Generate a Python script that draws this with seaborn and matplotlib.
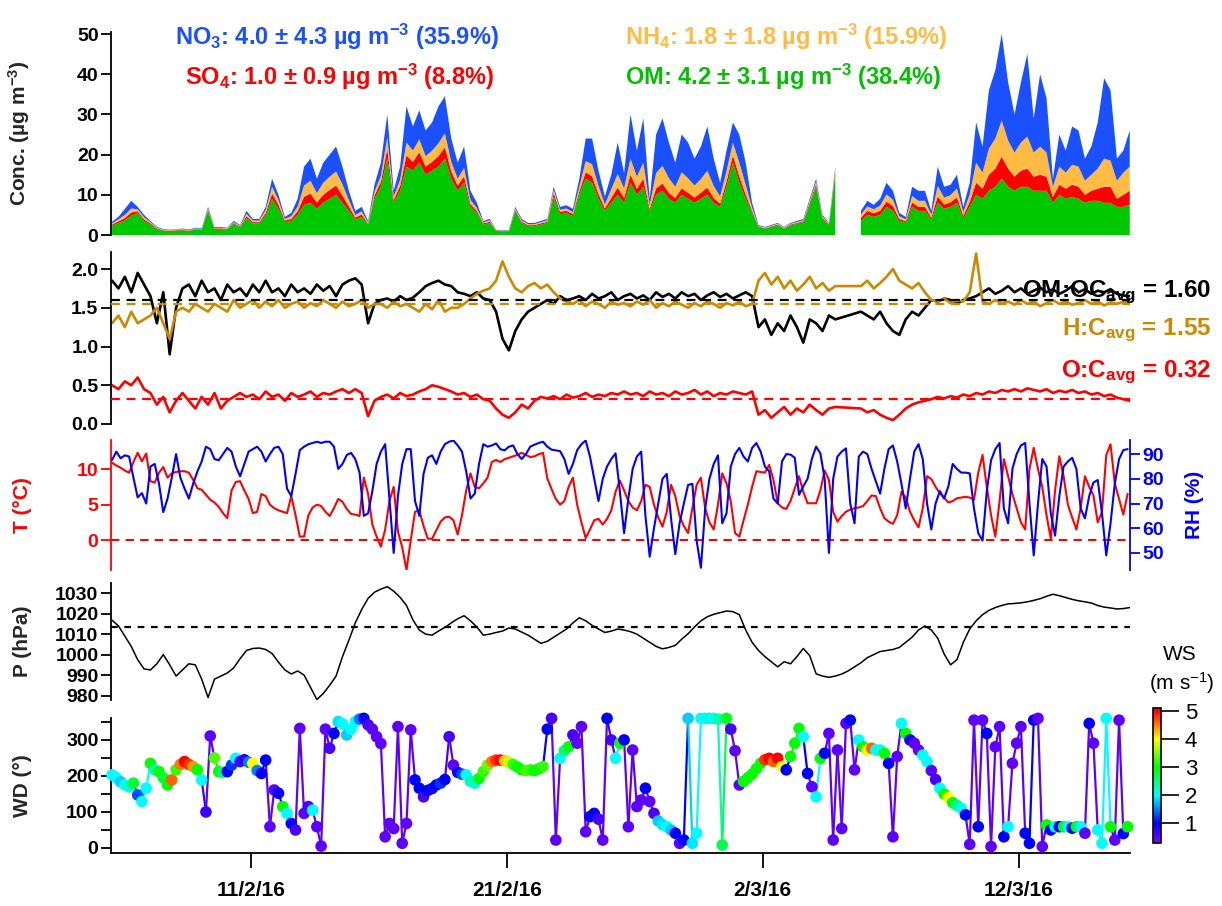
import numpy as np
import pandas as pd
import matplotlib
matplotlib.use("Agg")
import matplotlib.pyplot as plt
import matplotlib.dates as mdates
from matplotlib.collections import LineCollection
from matplotlib.colors import LinearSegmentedColormap, Normalize
from matplotlib.cm import ScalarMappable
from matplotlib.ticker import FixedLocator, FormatStrFormatter
from matplotlib.font_manager import FontProperties, fontManager
import seaborn as sns

# ---------------- time base ----------------
START = "2016-02-05 14:00"
XLIM = ("2016-02-05 13:00", "2016-03-16 08:15")
XTICK_DATES = ["2016-02-11", "2016-02-21", "2016-03-02", "2016-03-12"]
XTICK_LABELS = ["11/2/16", "21/2/16", "2/3/16", "12/3/16"]

nan = np.nan

# ---------------- PM1 composition, 6-hourly (µg m-3) ----------------
CONC_OM = [2.3, 3.0, 3.6, 4.8, 5.5, 3.5, 2.6, 1.5, 1.1, 1.0, 1.1, 1.2, 1.0, 1.4, 1.3, 6.0, 1.5, 1.5, 1.4, 2.8, 1.9, 4.2, 2.9, 2.9, 4.8,
           9, 6.5, 3.2, 3.5, 5, 7.5, 8, 6.5, 8, 9, 10, 8, 6, 3.8, 4.5, 2.6,
           9, 12, 19, 8, 11, 17, 16, 18, 15, 16, 17, 19, 14, 11, 13, 7, 5.5,
           2.6, 3.0, 1.0, 0.9, 0.9, 6.0, 3.0, 2.2, 2.2, 2.6, 3.0, 9.5, 5.2, 5.4, 4.7,
           10, 14, 13, 9, 6, 8, 10, 8, 13, 10, 12, 6, 10, 11, 9, 8, 10, 9, 8, 9, 10, 8, 7, 12, 18, 13, 9, 5.5,
           2.0, 1.6, 2.0, 2.4, 1.6, 2.4, 2.8, 3.2, 7.5, 12, 4, 2.4, 15,
           nan, nan, nan,
           3.5, 5, 4.5, 5, 7, 6, 3.5, 3, 7, 6, 6, 3.8, 8, 6.5, 7, 8, 4.2, 7,
           10, 9, 11, 12, 14, 12, 11, 12, 12, 11, 11, 11, 8, 10, 9, 9.5, 9, 8, 8.5, 8.5, 8, 8, 7, 7, 7.5]
CONC_SO4 = [0.3, 0.4, 0.6, 0.8, 0.4, 0.4, 0.3, 0.15, 0.1, 0.1, 0.1, 0.1, 0.1, 0.1, 0.1, 0.3, 0.15, 0.15, 0.1, 0.2, 0.2, 0.5, 0.3, 0.3, 0.6,
            1.3, 1.0, 0.4, 0.5, 0.9, 2.0, 2.3, 1.6, 2.0, 2.2, 2.3, 1.8, 1.1, 0.5, 0.6, 0.2,
            0.8, 1.2, 2.5, 0.7, 1.2, 2.8, 2.2, 2.6, 2.0, 2.2, 2.6, 2.8, 1.8, 1.3, 1.6, 0.7, 0.5,
            0.3, 0.3, 0.1, 0.1, 0.1, 0.3, 0.3, 0.25, 0.25, 0.3, 0.3, 0.9, 0.6, 0.6, 0.5,
            0.8, 1.6, 1.6, 1.2, 0.6, 1.2, 1.8, 1.2, 2.0, 1.5, 2.0, 0.5, 1.6, 1.8, 1.5, 1.2, 1.6, 1.5, 1.3, 1.5, 1.8, 1.2, 0.8, 1.3, 1.8, 1.6, 1.1, 0.5,
            0.15, 0.1, 0.15, 0.2, 0.1, 0.2, 0.2, 0.25, 0.5, 0.7, 0.3, 0.2, 0.7,
            nan, nan, nan,
            0.8, 1.0, 0.9, 1.0, 1.3, 1.2, 0.5, 0.4, 1.1, 1.0, 1.0, 0.5, 1.6, 1.1, 1.1, 1.4, 0.6, 1.2,
            3, 2.5, 4, 4.5, 5.5, 4.5, 3.5, 4, 4.5, 3.5, 4, 3.5, 1.5, 2.5, 2.5, 3, 3, 2, 2.5, 3, 4, 4, 2, 3, 3.5]
CONC_NH4 = [0.3, 0.5, 0.8, 1.0, 0.5, 0.5, 0.3, 0.15, 0.15, 0.1, 0.1, 0.15, 0.15, 0.15, 0.15, 0.3, 0.15, 0.15, 0.15, 0.2, 0.2, 0.6, 0.4, 0.4, 0.8,
            1.7, 1.2, 0.4, 0.7, 1.2, 2.8, 3.2, 2.3, 3.0, 3.3, 3.5, 2.8, 1.6, 0.7, 0.8, 0.3,
            1.0, 1.5, 2.8, 0.9, 1.5, 3.2, 2.8, 3.2, 2.6, 2.8, 3.2, 3.5, 2.4, 1.7, 2.1, 1.0, 0.7,
            0.3, 0.35, 0.1, 0.1, 0.1, 0.3, 0.35, 0.25, 0.25, 0.3, 0.35, 0.8, 0.5, 0.6, 0.5,
            1.2, 2.8, 3.0, 2.0, 1.0, 2.2, 3.4, 2.4, 4.0, 3.0, 4.0, 1.0, 3.8, 4.4, 3.6, 2.8, 4.0, 3.6, 3.0, 3.4, 4.2, 3.0, 1.8, 2.6, 3.2, 3.4, 2.4, 0.8,
            0.15, 0.15, 0.15, 0.2, 0.15, 0.2, 0.25, 0.25, 0.5, 0.6, 0.3, 0.2, 0.6,
            nan, nan, nan,
            0.8, 1.1, 1.0, 1.3, 1.8, 1.6, 0.7, 0.5, 1.6, 1.5, 1.5, 0.7, 2.6, 1.7, 1.8, 2.2, 0.9, 1.9,
            5, 4, 6.5, 7.5, 9, 7, 6, 7, 8, 6, 7, 6, 2.5, 4.5, 4, 5, 5, 3.5, 4, 5, 7, 6.5, 4.5, 5.5, 6]
CONC_NO3 = [0.4, 0.6, 1.5, 1.9, 0.6, 0.6, 0.3, 0.2, 0.15, 0.1, 0.1, 0.15, 0.15, 0.15, 0.15, 0.4, 0.2, 0.2, 0.15, 0.3, 0.2, 0.7, 0.4, 0.4, 0.8,
            2, 1.3, 0.5, 0.8, 1.9, 4.7, 5.5, 3.6, 5, 5.5, 6.2, 4.4, 2.3, 1, 1.1, 0.4,
            1.7, 3.3, 5.7, 1.4, 3.3, 9, 6, 7.2, 6.4, 7, 9.2, 9.2, 5.8, 4, 5.3, 2.3, 1.3,
            0.3, 0.35, 0.1, 0.1, 0.1, 0.4, 0.35, 0.3, 0.3, 0.3, 0.35, 0.8, 0.7, 0.8, 0.8,
            2, 5.6, 6.4, 3.8, 2, 3.6, 7.8, 3.8, 11, 6.5, 11, 1.5, 9.6, 11.8, 8.9, 6, 9.4, 8.9, 6.7, 8.1, 11, 6.8, 3.4, 5.1, 5, 7, 5.5, 1.2,
            0.2, 0.15, 0.2, 0.2, 0.15, 0.2, 0.25, 0.3, 0.5, 0.7, 0.4, 0.2, 0.7,
            nan, nan, nan,
            0.9, 1.4, 1.1, 1.7, 2.9, 2.2, 0.8, 0.6, 2.3, 2.5, 2.5, 1, 4.8, 2.7, 2.6, 3.4, 1.3, 2.9,
            10, 6.5, 14.5, 17, 21.5, 14.5, 9.5, 15, 20.5, 8.5, 18, 13.5, 2, 8, 5.5, 9.5, 9, 5.5, 7, 11.5, 20, 17.5, 5.5, 5.5, 9]

SPECIES = ["OM", "SO$_4$", "NH$_4$", "NO$_3$"]
SPECIES_COLORS = ["#00c800", "#ff0000", "#ffbb44", "#1a50ff"]
SUMMARY = [("NO$_3$: 4.0 ± 4.3 µg m$^{-3}$ (35.9%)", "#1a50ff"),
           ("NH$_4$: 1.8 ± 1.8 µg m$^{-3}$ (15.9%)", "#ffbb44"),
           ("SO$_4$: 1.0 ± 0.9 µg m$^{-3}$ (8.8%)", "#ff0000"),
           ("OM: 4.2 ± 3.1 µg m$^{-3}$ (38.4%)", "#00c000")]

# ---------------- elemental ratios, 6-hourly ----------------
OM_OC = [1.85, 1.75, 1.9, 1.7, 1.95, 1.8, 1.65,
         1.3, 1.7, 0.9, 1.5, 1.75,
         1.8, 1.65, 1.85, 1.7, 1.75, 1.6, 1.8, 1.7,
         1.75, 1.65, 1.8, 1.7, 1.85, 1.7, 1.75, 1.65, 1.8, 1.7, 1.75, 1.68, 1.8, 1.72, 1.78, 1.65, 1.8, 1.85,
         1.88, 1.8,
         1.3, 1.55,
         1.6, 1.62, 1.58, 1.65, 1.6, 1.63,
         1.7, 1.78, 1.82, 1.85, 1.8, 1.78,
         1.7, 1.68, 1.65, 1.7, 1.62, 1.6,
         1.45, 1.1, 0.95, 1.2,
         1.35, 1.45, 1.5, 1.55,
         1.6, 1.55, 1.65, 1.6, 1.62, 1.65, 1.6, 1.68, 1.62, 1.65, 1.7, 1.6, 1.65,
         1.68, 1.62, 1.66, 1.6, 1.7, 1.64, 1.68, 1.62, 1.7, 1.65, 1.68, 1.6, 1.66, 1.7, 1.64, 1.68, 1.62, 1.66, 1.7, 1.65,
         1.25, 1.35, 1.15, 1.3, 1.2, 1.4, 1.25, 1.05, 1.35, 1.3, 1.2, 1.4, 1.35,
         nan, nan, nan,
         1.45, 1.4, 1.35, 1.45, 1.3, 1.2, 1.15, 1.35, 1.45, 1.4, 1.5,
         1.6, 1.58, 1.62, 1.6, 1.55, 1.6, 1.62,
         1.65, 1.7, 1.75, 1.68, 1.72, 1.78, 1.7, 1.75, 1.68, 1.72, 1.76, 1.7, 1.74, 1.68, 1.72, 1.78, 1.7, 1.74,
         1.68, 1.72, 1.7, 1.74, 1.68, 1.66, 1.65]
H_C = [1.3, 1.4, 1.25, 1.45, 1.3, 1.35, 1.4,
       1.5, 1.3, 1.1, 1.45, 1.5,
       1.45, 1.55, 1.5, 1.45, 1.55, 1.5, 1.45, 1.6,
       1.5, 1.55, 1.6, 1.5, 1.58, 1.52, 1.6, 1.5, 1.55, 1.58, 1.5, 1.56, 1.52, 1.6, 1.55, 1.5, 1.58, 1.52,
       1.55, 1.6,
       1.5, 1.55,
       1.55, 1.5, 1.58, 1.52, 1.55, 1.5,
       1.45, 1.55, 1.48, 1.6, 1.45, 1.5,
       1.5, 1.55, 1.62, 1.68, 1.72, 1.75,
       1.85, 2.1, 1.9, 1.75,
       1.7, 1.78, 1.82, 1.75,
       1.8, 1.7, 1.62, 1.58, 1.55, 1.6, 1.52, 1.58, 1.55, 1.5, 1.58, 1.54, 1.56,
       1.52, 1.58, 1.54, 1.6, 1.5, 1.56, 1.52, 1.58, 1.54, 1.5, 1.56, 1.52, 1.58, 1.55, 1.5, 1.56, 1.53, 1.58, 1.52, 1.55,
       1.85, 1.95, 1.8, 1.9, 1.75, 1.85, 1.72, 1.8, 1.9, 1.75, 1.82, 1.72, 1.78,
       nan, nan, nan,
       1.78, 1.85, 1.75, 1.82, 1.9, 2.0, 1.85, 1.8, 1.75, 1.82, 1.7,
       1.6, 1.58, 1.62, 1.56, 1.6, 1.58, 1.7,
       2.2, 1.58, 1.55, 1.6, 1.56, 1.58, 1.54, 1.6, 1.55, 1.58, 1.52, 1.56, 1.6, 1.55, 1.58, 1.54, 1.56, 1.6,
       1.55, 1.58, 1.53, 1.57, 1.55, 1.58, 1.55]
O_C = [0.5, 0.45, 0.55, 0.5, 0.6, 0.45, 0.4,
       0.25, 0.35, 0.15, 0.3, 0.4,
       0.3, 0.2, 0.35, 0.25, 0.4, 0.2, 0.3, 0.35,
       0.4, 0.35, 0.38, 0.32, 0.42, 0.35, 0.38, 0.3, 0.4, 0.35, 0.38, 0.42, 0.35, 0.4, 0.38, 0.42, 0.45, 0.4,
       0.45, 0.4,
       0.1, 0.3,
       0.35, 0.38, 0.33, 0.4, 0.36, 0.38,
       0.42, 0.45, 0.5, 0.48, 0.45, 0.42,
       0.38, 0.4, 0.35, 0.38, 0.32, 0.3,
       0.2, 0.12, 0.08, 0.15,
       0.25, 0.2, 0.3, 0.35,
       0.33, 0.36, 0.32, 0.38, 0.34, 0.36, 0.4, 0.35, 0.38, 0.36, 0.4, 0.38, 0.42,
       0.38, 0.4, 0.36, 0.42, 0.38, 0.4, 0.36, 0.42, 0.38, 0.4, 0.44, 0.38, 0.42, 0.36, 0.4, 0.38, 0.42, 0.4, 0.38, 0.42,
       0.12, 0.18, 0.08, 0.15, 0.22, 0.12, 0.2, 0.15, 0.25, 0.18, 0.12, 0.2, 0.22,
       nan, nan, nan,
       0.2, 0.15, 0.18, 0.12, 0.08, 0.05, 0.12, 0.2, 0.25, 0.28, 0.3,
       0.32, 0.35, 0.33, 0.36, 0.34, 0.38, 0.36,
       0.4, 0.38, 0.42, 0.4, 0.44, 0.42, 0.45, 0.42, 0.46, 0.44, 0.42, 0.45, 0.4, 0.43, 0.41, 0.44, 0.4, 0.42,
       0.38, 0.4, 0.36, 0.38, 0.34, 0.32, 0.3]
RATIO_AVG = {"OM:OC": 1.60, "H:C": 1.55, "O:C": 0.32}

# ---------------- meteorology, 4-hourly ----------------
TEMP = [10.9, 10.5, 10.2, 9.8, 9.5, 11, 12.3, 11.1, 12.2, 8.3,
        8.1, 9.5, 10.3, 8.8, 9.4, 9.6, 9.7, 9.7, 9.5, 8.5,
        7.3, 7.1, 6.4, 5.7, 5.3, 4.7, 3.8, 3.1, 7, 8.2,
        8.3, 7, 5.8, 3.8, 4, 6.5, 6.2, 5, 4.5, 4.2,
        4, 3.8, 6.2, 3.5, 0.5, 0.5, 3.5, 4.6, 5, 4.8,
        4, 3.4, 4.5, 5.8, 5.4, 4.4, 3.7, 3.6, 3.4, 8.8,
        6.5, 2.2, 0.5, -0.9, 1.5, 5.5, 7.5, 1.2, -1, -4.2,
        0, 4, 4.2, 2, 0.2, 0.2, 1.4, 2.6, 3.2, 3.3,
        2.8, 0.8, 3.5, 7, 9.4, 7.5, 7.3, 8, 8.8, 11,
        11.3, 11, 11.4, 11.6, 11.8, 12, 12.3, 12, 11.7, 11.8,
        12.1, 12.3, 8.7, 7.2, 5.8, 5, 5.5, 7.5, 8.8, 5,
        2.5, 0.3, 1.5, 2.8, 3, 2.2, 3, 4.2, 6.8, 8.4,
        7, 5.5, 4.6, 4.2, 5.5, 7.8, 7.5, 5, 3.2, 1.9,
        4, 7.8, 6.2, 3.4, 2, 1, 4.5, 7.8, 8.8, 4.5,
        2.5, 1.5, 5, 9.4, 8, 5.5, 1, 0.5, 2.8, 5,
        7.5, 9.7, 9.6, 9.5, 10.6, 8.5, 5.2, 4.6, 4.4, 5.5,
        7.3, 9, 6.8, 5.2, 5.2, 5.2, 7, 9.8, 8.5, 4,
        2.6, 3.4, 4, 4.3, 4.5, 4.6, 4.8, 5.5, 6.3, 6.2,
        4.5, 3.1, 2.6, 2.3, 3.5, 6.8, 6, 4, 2.8, 1.8,
        4.5, 9, 8.6, 7.5, 6.6, 6, 5.3, 5.5, 5.9, 6,
        6.1, 6, 5.7, 9.5, 12, 7.5, 3.5, 0.5, 5.5, 11.4,
        9, 6.5, 4.5, 2.5, 1.5, 10, 13, 10, 7.5, 3.5,
        0.2, 7, 11.8, 9, 5, 3.2, 1.5, 4.5, 9, 7.5,
        6.3, 2.5, 4, 12, 13.5, 8, 5.8, 3.6, 6.5]
RH = [87.6, 91, 88.3, 89.5, 89, 80.5, 72.5, 74.2, 70, 85,
      86, 78, 66.5, 72, 80.5, 90, 80.5, 76, 72, 78,
      83, 87, 93, 92, 88, 87.5, 90, 92.5, 91, 85,
      81, 86, 91, 92, 93, 91, 87, 90, 92.5, 93,
      90, 76, 73, 82, 91.6, 93, 94, 94.5, 95, 94.5,
      95, 95, 93, 84, 86, 89.6, 90.5, 88, 82.5, 65,
      66, 75, 86, 91, 94, 72, 50, 73, 86, 92,
      92, 71, 65, 82, 88.5, 89.5, 86, 91, 94, 95,
      95.5, 93.5, 91, 83, 72, 74, 86, 94, 93, 93.5,
      94.3, 92, 91.5, 93, 93.5, 90, 88, 90, 93, 93.8,
      94.5, 95, 93, 91.8, 91.5, 91.2, 88, 82, 86, 91.6,
      94, 95.5, 89, 80, 71, 80, 85, 88, 90.3, 75,
      58, 72, 84, 89, 91, 65, 48.5, 60, 70, 80,
      82, 64, 49.5, 62, 70, 77.5, 78, 55, 44, 68,
      80, 86, 89.5, 62, 66, 85, 90, 92.5, 89, 87,
      92.5, 94.5, 91, 85, 83, 72, 70, 87, 90, 89.8,
      88.5, 73.5, 77, 80, 88, 93, 90.3, 80, 50, 80,
      89, 91, 92.3, 70, 62, 89, 91, 90, 84, 79,
      74, 84, 92, 93.5, 87, 78, 68, 80, 91, 94,
      88, 70, 59.5, 70, 75, 72, 77, 86, 84, 82.5,
      82.5, 82.2, 68, 58, 55, 75, 87.5, 92, 94.5, 68,
      62, 84, 90, 93.5, 94.5, 70, 49, 70, 88, 85,
      66, 57, 73, 85, 87, 88.5, 84, 68, 64, 73,
      78.5, 79.5, 66, 49, 62, 78, 88, 91.6, 92]
WIND_DIR = [203, 195, 184, 175, 170, 180, 147, 129, 166, 235,
            217, 212, 195, 175, 189, 217, 232, 240, 232, 226,
            217, 189, 100, 311, 250, 212, 210, 212, 230, 249,
            240, 245, 238, 235, 215, 207, 244, 59, 161, 152,
            115, 96, 68, 50, 332, 96, 115, 105, 59, 5,
            330, 277, 318, 351, 345, 314, 330, 351, 358, 360,
            342, 330, 309, 290, 31, 68, 54, 337, 13, 68,
            328, 189, 166, 142, 160, 165, 175, 180, 190, 309,
            230, 210, 205, 203, 185, 180, 193, 212, 230, 240,
            244, 244, 242, 238, 232, 225, 217, 215, 217, 215,
            220, 226, 330, 360, 22, 249, 270, 281, 314, 291,
            337, 45, 87, 96, 80, 22, 360, 300, 249, 291,
            300, 59, 272, 115, 133, 166, 129, 96, 75, 65,
            59, 50, 41, 13, 22, 360, 13, 41, 360, 360,
            360, 360, 358, 8, 360, 330, 270, 175, 185, 195,
            205, 220, 235, 245, 249, 240, 249, 226, 217, 254,
            291, 332, 309, 207, 170, 142, 249, 263, 318, 22,
            272, 54, 346, 355, 217, 300, 281, 272, 277, 272,
            272, 263, 235, 31, 254, 346, 318, 300, 291, 272,
            258, 240, 215, 190, 166, 150, 140, 126, 118, 110,
            92, 10, 355, 59, 355, 318, 4, 281, 337, 31,
            59, 235, 291, 337, 41, 13, 355, 360, 4, 64,
            50, 59, 59, 59, 59, 55, 59, 59, 41, 346,
            291, 50, 13, 360, 59, 22, 355, 40, 59]
WIND_SPEED = [2.0, 2.0, 1.8, 2.0, 2.2, 2.8, 1.3, 2.0, 2.0, 3.0,
              2.3, 3.0, 2.8, 3.0, 4.6, 3.2, 4.5, 5.0, 4.8, 4.4,
              3.0, 2.0, 0.7, 0.5, 3.3, 3.0, 2.5, 1.0, 1.2, 2.0,
              0.6, 0.8, 1.5, 4.0, 1.5, 1.0, 1.0, 0.5, 0.5, 1.0,
              3.0, 2.0, 1.0, 0.6, 0.5, 0.5, 0.6, 2.0, 0.5, 0.5,
              0.5, 0.6, 1.0, 1.9, 2.0, 1.8, 2.0, 2.0, 1.5, 1.0,
              0.6, 0.5, 0.5, 0.5, 0.5, 0.5, 0.5, 0.5, 0.5, 0.5,
              0.5, 1.0, 1.0, 0.6, 1.0, 0.9, 1.0, 1.2, 1.0, 0.6,
              0.5, 0.9, 1.3, 2.0, 2.3, 2.2, 3.0, 3.2, 3.4, 4.5,
              4.8, 5.0, 4.2, 3.8, 3.2, 3.0, 3.0, 3.3, 3.2, 3.0,
              3.0, 3.2, 1.0, 0.6, 0.5, 2.0, 2.5, 3.0, 0.6, 0.5,
              0.5, 0.5, 1.0, 1.0, 0.6, 0.5, 1.0, 0.6, 2.0, 3.0,
              1.0, 0.5, 0.5, 0.5, 0.5, 1.0, 0.5, 0.6, 1.8, 1.9,
              2.0, 1.8, 1.0, 0.5, 1.0, 1.8, 1.9, 2.0, 2.0, 2.0,
              2.2, 2.0, 2.3, 2.7, 2.9, 0.6, 0.5, 0.5, 3.0, 3.0,
              3.0, 3.0, 3.0, 4.8, 5.0, 4.6, 5.0, 4.0, 1.0, 3.0,
              3.0, 3.0, 2.0, 1.0, 0.5, 2.0, 3.0, 1.0, 0.5, 0.5,
              0.5, 0.5, 0.5, 1.0, 0.5, 2.0, 3.0, 4.0, 4.6, 2.0,
              2.0, 3.0, 1.0, 0.5, 0.5, 2.0, 3.0, 1.0, 0.5, 0.5,
              2.0, 2.0, 0.5, 0.6, 2.0, 3.0, 4.0, 3.0, 2.5, 2.0,
              1.0, 0.5, 0.5, 1.0, 0.5, 1.0, 0.5, 0.5, 0.5, 1.0,
              2.0, 0.5, 0.5, 0.5, 1.0, 1.0, 1.0, 0.5, 0.5, 3.0,
              1.0, 2.0, 1.0, 3.0, 2.0, 1.0, 3.0, 2.0, 0.5, 1.0,
              0.5, 2.0, 2.0, 2.0, 3.0, 0.5, 0.5, 1.0, 3.0]

# ---------------- pressure, 6-hourly (hPa) ----------------
PRESSURE = [1016.8, 1014, 1009, 1004, 997.5, 993, 992.5, 995.5, 1000, 995,
            989.5, 992.5, 995.5, 995, 988, 979, 988, 989.5, 991, 993.5,
            998, 1002, 1003, 1003.2, 1002.5, 1000.5, 996.3, 992.5, 990.5, 992,
            990, 984, 978, 981, 985, 989.5, 999, 1007, 1015.5, 1022,
            1027.5, 1030.5, 1032, 1033.2, 1031, 1028, 1024, 1017, 1012, 1010,
            1009.5, 1011.5, 1013.3, 1015.5, 1017.5, 1019, 1016.5, 1013.5, 1009.5, 1010,
            1010.8, 1011.5, 1013, 1012.5, 1011, 1009.5, 1007.5, 1005.5, 1006.5, 1008.5,
            1010.5, 1012.5, 1015.5, 1018, 1016.5, 1014.3, 1012.5, 1010.8, 1011.5, 1012.5,
            1012, 1011.2, 1010, 1008, 1006, 1004, 1002.8, 1003.5, 1004.5, 1007.5,
            1010.2, 1013.5, 1016.5, 1018.5, 1019.7, 1020.5, 1021.3, 1021, 1019.5, 1012,
            1006, 1002, 999, 996.5, 994, 996.5, 995.5, 999, 1003, 999.5,
            990.6, 989.5, 988.9, 989.5, 990.5, 992, 994, 996, 998.5, 1000,
            1001.5, 1002, 1002.5, 1003.5, 1006, 1008.5, 1012, 1014, 1012, 1008,
            1000.3, 995, 997.5, 1006, 1012.5, 1016.5, 1019.5, 1021.6, 1023, 1024,
            1024.8, 1025, 1025.3, 1025.8, 1026.5, 1027.3, 1028.5, 1029.5, 1028.8, 1027.9,
            1027, 1026.3, 1025.8, 1025.2, 1024, 1023.2, 1022.8, 1022.3, 1022.5, 1023]
P_STANDARD = 1013.25

WS_TICKS = [1, 2, 3, 4, 5]
WS_RANGE = (0.3, 5.1)

# ---------------- style ----------------
sns.set_theme(style="white")
plt.rcParams.update({
    "font.family": ["Liberation Sans", "DejaVu Sans"],
    "font.weight": "bold",
    "axes.labelweight": "bold",
    "mathtext.fontset": "custom",
    "mathtext.rm": "Liberation Sans:bold",
    "mathtext.it": "Liberation Sans:bold:italic",
    "mathtext.bf": "Liberation Sans:bold",
    "mathtext.default": "rm",
    "axes.edgecolor": "black",
    "xtick.color": "black",
    "ytick.color": "black",
    "text.color": "black",
})


def pick_narrow():
    names = {f.name for f in fontManager.ttflist}
    if "Liberation Sans Narrow" in names:
        return FontProperties(family="Liberation Sans Narrow", weight="bold", size=17)
    return FontProperties(family="Liberation Sans", weight="bold", size=15)


W, H = 1222, 906


def box(l, t, r, b):
    return [l / W, 1 - b / H, (r - l) / W, (b - t) / H]


def style_left(ax, color="black"):
    for s in ["top", "right", "bottom"]:
        ax.spines[s].set_visible(False)
    ax.spines["left"].set_color(color)
    ax.spines["left"].set_linewidth(1.3)
    ax.tick_params(axis="y", which="both", left=True, right=False, direction="out",
                   length=7, width=1.3, colors=color, labelsize=14, pad=2)
    ax.tick_params(axis="x", which="both", bottom=False, labelbottom=False)
    ax.set_facecolor("none")
    ax.grid(False)


LABEL_X = -0.0775

t6 = pd.date_range(START, periods=len(CONC_OM), freq="6h")
t4 = pd.date_range(START, periods=len(TEMP), freq="4h")

fig = plt.figure(figsize=(12.22, 9.06), dpi=100)
ax1 = fig.add_axes(box(111, 32, 1130, 235))
ax2 = fig.add_axes(box(111, 252, 1130, 424), sharex=ax1)
ax3 = fig.add_axes(box(111, 440, 1130, 570), sharex=ax1)
ax4 = fig.add_axes(box(111, 583, 1130, 700), sharex=ax1)
ax5 = fig.add_axes(box(111, 718, 1130, 853), sharex=ax1)

# ---- panel 1: stacked composition ----
stack = [np.array(v, dtype=float) for v in (CONC_OM, CONC_SO4, CONC_NH4, CONC_NO3)]
ax1.stackplot(t6, *stack, colors=SPECIES_COLORS, labels=SPECIES, linewidth=0)
ax1.set_ylim(0, 50.5)
ax1.set_yticks([0, 10, 20, 30, 40, 50])
style_left(ax1)
ax1.set_ylabel("Conc. (µg m$^{-3}$)", fontsize=15)
ax1.yaxis.set_label_coords(LABEL_X, 0.5)
text_pos = [(175, 37), (625, 37), (185, 77), (625, 77)]
for (txt, col), (px, py) in zip(SUMMARY, text_pos):
    fig.text(px / W, 1 - py / H, txt, color=col, fontsize=17, fontweight="bold", va="center", ha="left")

# ---- panel 2: elemental ratios ----
ratio_series = [(OM_OC, "black", "OM:OC"), (H_C, "#c98a00", "H:C"), (O_C, "#ff0000", "O:C")]
for vals, col, key in ratio_series:
    v = np.array(vals, dtype=float)
    ok = ~np.isnan(v)
    sns.lineplot(x=t6[ok], y=v[ok], ax=ax2, color=col, lw=1.9, estimator=None, sort=False)
for vals, col, key in ratio_series:
    ax2.axhline(RATIO_AVG[key], color=col, lw=1.6, ls=(0, (4, 3)), zorder=5)
ax2.set_ylim(0, 2.22)
ax2.set_yticks([0.0, 0.5, 1.0, 1.5, 2.0])
ax2.yaxis.set_major_formatter(FormatStrFormatter("%.1f"))
style_left(ax2)
ax2.set_ylabel("")
ratio_text = [("OM:OC$_{avg}$ = %.2f" % RATIO_AVG["OM:OC"], "black", 292),
              ("H:C$_{avg}$ = %.2f" % RATIO_AVG["H:C"], "#c98a00", 330),
              ("O:C$_{avg}$ = %.2f" % RATIO_AVG["O:C"], "#ff0000", 372)]
for txt, col, py in ratio_text:
    fig.text(1211 / W, 1 - py / H, txt, color=col, fontsize=17.5, fontweight="bold", ha="right", va="center")

# ---- panel 3: temperature & RH ----
sns.lineplot(x=t4, y=np.array(TEMP, dtype=float), ax=ax3, color="#ff0000", lw=1.5, estimator=None, sort=False)
ax3.axhline(0, color="#ff0000", lw=1.5, ls=(0, (4, 3)))
ax3.set_ylim(-4.2, 14.1)
ax3.set_yticks([0, 5, 10])
style_left(ax3, color="#ff0000")
ax3.set_ylabel("T (°C)", color="#ff0000", fontsize=15)
ax3.yaxis.set_label_coords(LABEL_X, 0.5)

ax3r = ax3.twinx()
sns.lineplot(x=t4, y=np.array(RH, dtype=float), ax=ax3r, color="#0000ff", lw=1.5, estimator=None, sort=False)
ax3r.set_ylim(43.1, 95.7)
ax3r.set_yticks([50, 60, 70, 80, 90])
for s in ["top", "left", "bottom"]:
    ax3r.spines[s].set_visible(False)
ax3r.spines["right"].set_color("#0000ff")
ax3r.spines["right"].set_linewidth(1.3)
ax3r.tick_params(axis="y", right=True, left=False, direction="out", length=7, width=1.3,
                 colors="#0000ff", labelsize=14, pad=2)
ax3r.tick_params(axis="x", bottom=False, labelbottom=False)
ax3r.grid(False)
ax3r.set_ylabel("RH (%)", color="#0000ff", fontsize=15)
ax3r.yaxis.set_label_coords(1.054, 0.5)

# ---- panel 4: pressure ----
sns.lineplot(x=t6, y=np.array(PRESSURE, dtype=float), ax=ax4, color="black", lw=1.1, estimator=None, sort=False)
ax4.axhline(P_STANDARD, color="black", lw=1.6, ls=(0, (3, 3)))
ax4.set_ylim(977.8, 1035)
ax4.set_yticks([980, 990, 1000, 1010, 1020, 1030])
style_left(ax4)
ax4.set_ylabel("P (hPa)", fontsize=15)
ax4.yaxis.set_label_coords(LABEL_X, 0.5)

# ---- panel 5: wind direction coloured by wind speed ----
cmap = LinearSegmentedColormap.from_list(
    "ws_rainbow",
    [(0.0, "#8000ff"), (0.146, "#0000ff"), (0.354, "#00ffff"), (0.5625, "#00ff00"),
     (0.771, "#ffff00"), (0.875, "#ff8000"), (0.98, "#ff0000"), (1.0, "#ff0000")])
norm = Normalize(vmin=WS_RANGE[0], vmax=WS_RANGE[1])
wd = np.array(WIND_DIR, dtype=float)
ws = np.array(WIND_SPEED, dtype=float)
sns.scatterplot(x=t4, y=wd, hue=ws, palette=cmap, hue_norm=norm, s=70, linewidth=0,
                legend=False, ax=ax5, zorder=3, clip_on=False)
xnum = mdates.date2num(t4.to_pydatetime())
pts = np.column_stack([xnum, wd])
segs = np.stack([pts[:-1], pts[1:]], axis=1)
lc = LineCollection(segs, cmap=cmap, norm=norm, linewidths=1.6, zorder=2)
lc.set_array(np.minimum(ws[:-1], ws[1:]))
ax5.add_collection(lc)
ax5.set_ylim(-14, 361)
ax5.set_yticks([0, 100, 200, 300])
ax5.yaxis.set_minor_locator(FixedLocator([50, 150, 250, 350]))
style_left(ax5)
ax5.tick_params(axis="y", which="minor", left=True, length=7, width=1.3)
ax5.spines["bottom"].set_visible(True)
ax5.spines["bottom"].set_color("black")
ax5.spines["bottom"].set_linewidth(1.3)
ax5.set_ylabel("WD (°)", fontsize=15)
ax5.yaxis.set_label_coords(LABEL_X, 0.5)

ax1.set_xlim(pd.Timestamp(XLIM[0]), pd.Timestamp(XLIM[1]))
narrow = pick_narrow()
ax5.set_xticks(pd.to_datetime(XTICK_DATES))
ax5.set_xticklabels(XTICK_LABELS, fontproperties=narrow)
ax5.tick_params(axis="x", which="major", bottom=True, labelbottom=True, direction="out",
                length=11, width=1.3, pad=9)
ax5.set_xlabel("")
for a in (ax1, ax2, ax3, ax4):
    a.set_xlabel("")

# colour bar
cax = fig.add_axes(box(1153, 708, 1161, 843))
cb = fig.colorbar(ScalarMappable(norm=norm, cmap=cmap), cax=cax, ticks=WS_TICKS)
cb.outline.set_linewidth(1.2)
cax.tick_params(length=13, width=1.2, labelsize=16, direction="out", pad=4, colors="black")
for lab in cax.get_yticklabels():
    lab.set_fontweight("normal")
fig.text(1180 / W, 1 - 655 / H, "WS", fontsize=15, fontweight="normal", ha="center", va="center")
fig.text(1182 / W, 1 - 683 / H, "(m s$^{\\mathregular{-1}}$)", fontsize=15, fontweight="normal",
         ha="center", va="center")

fig.savefig("out.png", dpi=100)
